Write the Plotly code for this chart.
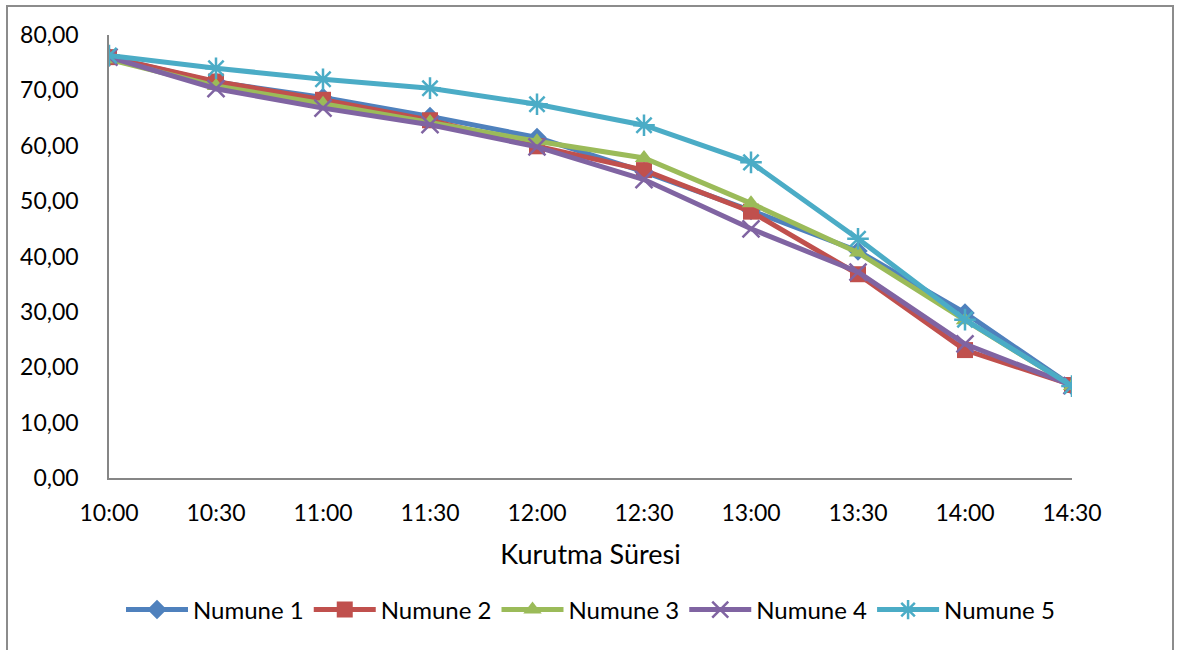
import plotly.graph_objects as go

times = ["10:00", "10:30", "11:00", "11:30", "12:00", "12:30", "13:00", "13:30", "14:00", "14:30"]
numune1 = [76.0, 71.5, 68.7, 65.3, 61.5, 55.3, 48.3, 41.0, 29.8, 16.6]
numune2 = [76.0, 71.6, 68.3, 64.6, 59.9, 55.6, 48.1, 36.8, 23.1, 16.8]
numune3 = [75.6, 70.8, 67.6, 64.3, 60.8, 57.8, 49.6, 40.7, 28.5, 16.6]
numune4 = [76.0, 70.3, 66.8, 63.8, 59.8, 53.9, 45.0, 37.2, 24.2, 16.7]
numune5 = [76.3, 74.0, 72.0, 70.4, 67.5, 63.7, 57.0, 43.2, 28.6, 16.6]

series_names = ["Numune 1", "Numune 2", "Numune 3", "Numune 4", "Numune 5"]
series_vals = [numune1, numune2, numune3, numune4, numune5]
colors = ["#4F81BD", "#C0504D", "#9BBB59", "#8064A2", "#4BACC6"]
symbols = ["diamond", "square", "triangle-up", "x-thin", "asterisk"]
sizes = [15, 16, 16, 17, 18]

FONT = "Lato"
fig = go.Figure()
xs = list(range(len(times)))
for name, vals, c, s, sz in zip(series_names, series_vals, colors, symbols, sizes):
    marker = dict(symbol=s, size=sz, color=c)
    if s in ("x-thin", "asterisk"):
        marker["line"] = dict(color=c, width=2.5)
    fig.add_trace(go.Scatter(x=xs, y=vals, name=name, mode="lines+markers",
                             line=dict(color=c, width=5), marker=marker))

L, R, T, B = 109, 1072, 35, 478
W, H = 1179, 650
def px(x):
    return (x - L) / (R - L)
def py(y):
    return (B - y) / (B - T)

fig.add_shape(type="rect", xref="paper", yref="paper",
              x0=px(7), x1=px(1173), y0=py(660), y1=py(6),
              line=dict(color="#8c8c8c", width=2), fillcolor="rgba(0,0,0,0)", layer="below")

fig.update_layout(
    width=W, height=H,
    margin=dict(l=L, r=W - R, t=T, b=H - B),
    plot_bgcolor="white", paper_bgcolor="white",
    separators=",.",
    font=dict(family=FONT, size=23, color="#000000"),
    showlegend=True,
    legend=dict(orientation="h", x=0.5, xanchor="center", y=py(610), yanchor="middle",
                font=dict(family=FONT, size=24), itemwidth=62, tracegroupgap=0),
    xaxis=dict(tickmode="array", tickvals=xs, ticktext=times, range=[0, 9],
               showgrid=False, zeroline=False, showline=True, linecolor="#868686", linewidth=1.5,
               ticks="", ticklabelstandoff=14, tickfont=dict(family=FONT, size=23),
               title=dict(text="Kurutma Süresi", font=dict(family=FONT, size=27), standoff=20)),
    yaxis=dict(range=[0, 80], tickmode="linear", tick0=0, dtick=10, tickformat=".2f",
               showgrid=False, zeroline=False, showline=True, linecolor="#868686", linewidth=1.5,
               ticks="", ticklabelstandoff=24, tickfont=dict(family=FONT, size=23)),
)

fig.write_html("out.html")
